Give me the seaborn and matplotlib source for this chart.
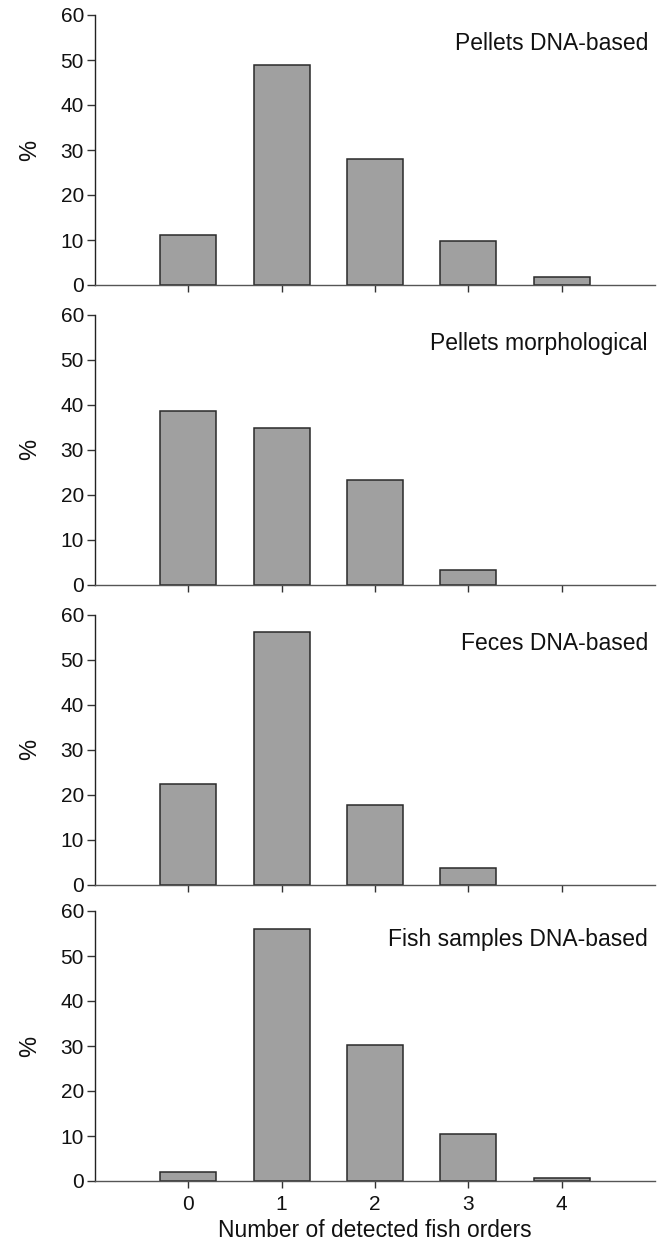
import matplotlib
matplotlib.use("Agg")
import matplotlib.pyplot as plt
import seaborn as sns
import pandas as pd

sns.set_style("white")
plt.rcParams['font.family'] = ['Liberation Sans', 'DejaVu Sans']

orders = [0, 1, 2, 3, 4]
panel_titles = ["Pellets DNA-based", "Pellets morphological", "Feces DNA-based", "Fish samples DNA-based"]
pellets_dna = [11.1, 49.0, 28.1, 9.8, 1.7]
pellets_morph = [38.5, 34.7, 23.2, 3.2, 0.0]
feces_dna = [22.4, 56.2, 17.7, 3.7, 0.0]
fish_dna = [2.0, 56.1, 30.3, 10.4, 0.6]
series = [pellets_dna, pellets_morph, feces_dna, fish_dna]
yticks = [0, 10, 20, 30, 40, 50, 60]

fig = plt.figure(figsize=(6.67, 12.45), dpi=100)
left, width = 95 / 667, 560 / 667
tops_px = [15, 314.5, 614.5, 911]
h_px = 270

for i, (title, vals) in enumerate(zip(panel_titles, series)):
    top = tops_px[i]
    ax = fig.add_axes([left, 1 - (top + h_px) / 1245, width, h_px / 1245])
    df = pd.DataFrame({"order": orders, "pct": vals})
    df = df[df["pct"] > 0]
    sns.barplot(data=df, x="order", y="pct", ax=ax, native_scale=True, width=0.6,
                color="#a0a0a0", saturation=1, edgecolor="#2a2a2a", linewidth=1.1)
    ax.set_xlim(-1, 5)
    ax.set_ylim(0, 60)
    ax.set_yticks(yticks)
    ax.set_xticks(orders)
    for s in ["top", "right"]:
        ax.spines[s].set_visible(False)
    ax.spines["left"].set_color("#222222")
    ax.spines["bottom"].set_color("#555555")
    ax.spines["left"].set_linewidth(1.0)
    ax.spines["bottom"].set_linewidth(1.0)
    ax.tick_params(axis="y", direction="out", length=5.5, width=1, color="#333333",
                   labelsize=15, pad=2.5, left=True, labelcolor="#111111")
    ax.tick_params(axis="x", direction="out", length=5, width=1, color="#333333",
                   labelsize=15, pad=5, bottom=True, labelcolor="#111111")
    ax.set_ylabel("%", fontsize=17, labelpad=14, color="#111111")
    if i < 3:
        ax.set_xticklabels([])
        ax.set_xlabel("")
    else:
        ax.set_xticklabels([str(o) for o in orders])
        ax.set_xlabel("Number of detected fish orders", fontsize=16.4, labelpad=4, color="#111111")
    ax.text(0.9875, 52.2, title, transform=ax.get_yaxis_transform(), ha="right",
            va="baseline", fontsize=16.5, color="#111111")
    ax.grid(False)

fig.savefig("out.png", dpi=100)
